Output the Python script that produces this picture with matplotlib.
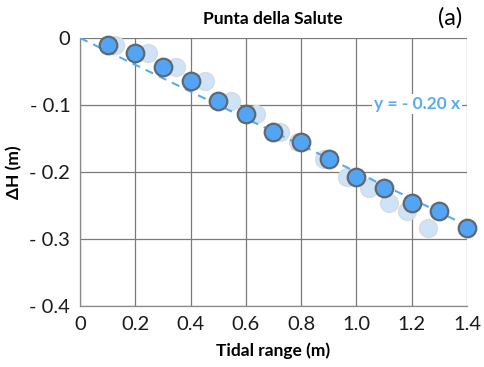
import matplotlib
matplotlib.use("Agg")
import matplotlib.pyplot as plt
import numpy as np

plt.rcParams['font.family'] = ['Lato', 'DejaVu Sans']

# Data
tidal_range = [0.1, 0.2, 0.3, 0.4, 0.5, 0.6, 0.7, 0.8, 0.9, 1.0, 1.1, 1.2, 1.3, 1.4]
delta_h = [-0.010, -0.022, -0.043, -0.064, -0.094, -0.114, -0.140, -0.155,
           -0.181, -0.207, -0.224, -0.246, -0.258, -0.284]
tidal_range_b = [0.127, 0.247, 0.348, 0.453, 0.548, 0.635, 0.722, 0.787,
                 0.881, 0.965, 1.045, 1.117, 1.182, 1.259]
delta_h_b = [-0.010, -0.022, -0.043, -0.064, -0.094, -0.114, -0.140, -0.155,
             -0.181, -0.207, -0.224, -0.246, -0.258, -0.284]
slope = -0.20
x_ticks = [0, 0.2, 0.4, 0.6, 0.8, 1.0, 1.2, 1.4]
x_tick_labels = ["0", "0.2", "0.4", "0.6", "0.8", "1.0", "1.2", "1.4"]
y_ticks = [0, -0.1, -0.2, -0.3, -0.4]
y_tick_labels = ["0", "- 0.1", "- 0.2", "- 0.3", "- 0.4"]

fig = plt.figure(figsize=(4.85, 3.67), dpi=100)
ax = fig.add_axes([80/485, 1-306/367, (467-80)/485, (306-38)/367])

ax.set_xlim(0, 1.4)
ax.set_ylim(-0.4, 0)
ax.set_xticks(x_ticks)
ax.set_xticklabels(x_tick_labels)
ax.set_yticks(y_ticks)
ax.set_yticklabels(y_tick_labels)
ax.tick_params(length=0, labelsize=14.5, colors='#1a1a1a', pad=7)
ax.grid(True, color='#7a7a7a', lw=0.9)
ax.set_axisbelow(True)
for s in ['top', 'right']:
    ax.spines[s].set_visible(False)
for s in ['left', 'bottom']:
    ax.spines[s].set_color('#8a8a8a')
    ax.spines[s].set_linewidth(0.9)

# light series
ax.scatter(tidal_range_b, delta_h_b, s=160, facecolor='#cfe3f7', edgecolor='#d5dce4',
           linewidth=1.2, zorder=3, clip_on=False)

# trend line
xl = np.array([0, 1.4])
ax.plot(xl, slope*xl, ls=(0, (4, 3)), color='#5aaaf0', lw=1.5, zorder=4)

# dark series
ax.scatter(tidal_range, delta_h, s=160, facecolor='#52a5f5', edgecolor='#606870',
           linewidth=1.6, zorder=5, clip_on=False)

ax.text(1.22, -0.0985, "y = - 0.20 x", color='#5aaaf0', fontsize=12.5, fontweight='bold',
        ha='center', va='center', zorder=6,
        bbox=dict(facecolor='white', edgecolor='none', pad=1.5))

ax.set_xlabel("Tidal range (m)", fontsize=12.5, fontweight='bold', labelpad=7)
ax.set_ylabel("ΔH (m)", fontsize=12.5, fontweight='bold', labelpad=5)
fig.text(273/485, 1-19/367, "Punta della Salute", fontsize=12.5, fontweight='bold',
         ha='center', va='center')
fig.text(450/485, 1-18/367, "(a)", fontsize=17, ha='center', va='center')

fig.savefig("out.png", dpi=100)
